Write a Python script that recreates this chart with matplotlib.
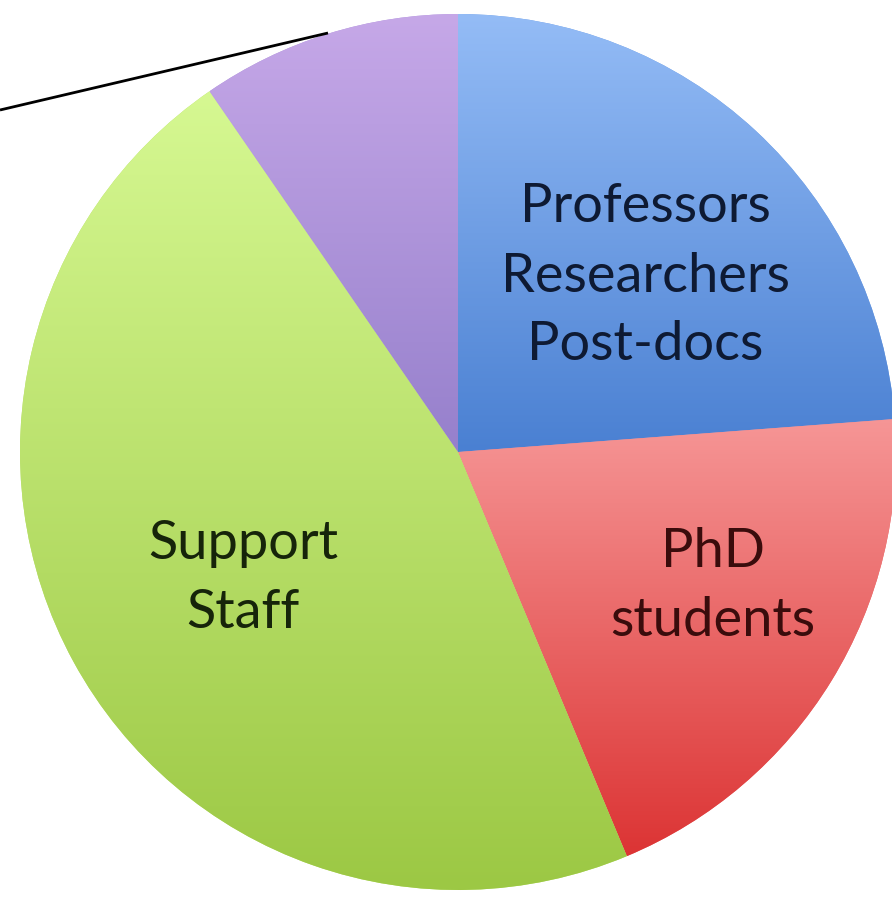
import numpy as np
import matplotlib
matplotlib.use("Agg")
import matplotlib.pyplot as plt
from matplotlib.colors import to_rgb

# Data (shares, clockwise from 12 o'clock)
categories = ["Professors\nResearchers\nPost-docs", "PhD\nstudents", "Support\nStaff", "Other"]
shares = [23.8, 19.9, 46.7, 9.6]
top_colors = ["#94bcf6", "#f69696", "#d6f892", "#c6a8e8"]
bottom_colors = ["#4a80d2", "#dc3434", "#9cc844", "#9680cc"]
text_colors = ["#0e1a33", "#3a0c0c", "#16240a", "#000000"]

W, H = 892, 899
fig = plt.figure(figsize=(W / 100, H / 100), dpi=100)
ax = fig.add_axes([0, 0, 1, 1])

cx, cy_pix, R = 458, 452, 438
cy = H - cy_pix

wedges, _ = ax.pie(shares, center=(cx, cy), radius=R, startangle=90,
                   counterclock=False, frame=True,
                   wedgeprops=dict(linewidth=0))

for w, ct, cb in zip(wedges, top_colors, bottom_colors):
    bb = w.get_path().get_extents()
    n = 256
    t = np.linspace(0, 1, n)[:, None]
    c0 = np.array(to_rgb(ct)); c1 = np.array(to_rgb(cb))
    img = (c0[None, :] * (1 - t) + c1[None, :] * t)[:, None, :]
    w.set_facecolor(tuple((c0 + c1) / 2))
    im = ax.imshow(img, extent=(bb.x0, bb.x1, bb.y0, bb.y1), origin="upper",
                   aspect="auto", interpolation="bilinear", zorder=2)
    im.set_clip_path(w)

ax.set_xlim(0, W)
ax.set_ylim(0, H)
ax.set_aspect("equal")
ax.axis("off")

# annotation line at top left
ax.plot([0, 328], [H - 110, H - 33], color="black", linewidth=2, zorder=3,
        solid_capstyle="butt")

font = "Lato"
fs = 39
label_pos = [(645, 276), (713, 586), (243, 578)]
for (lx, ly), lab, col in zip(label_pos, categories[:3], text_colors[:3]):
    ax.text(lx, H - ly, lab, ha="center", va="center", fontsize=fs,
            family=font, color=col, linespacing=1.5, zorder=4)

fig.savefig("out.png", dpi=100)
